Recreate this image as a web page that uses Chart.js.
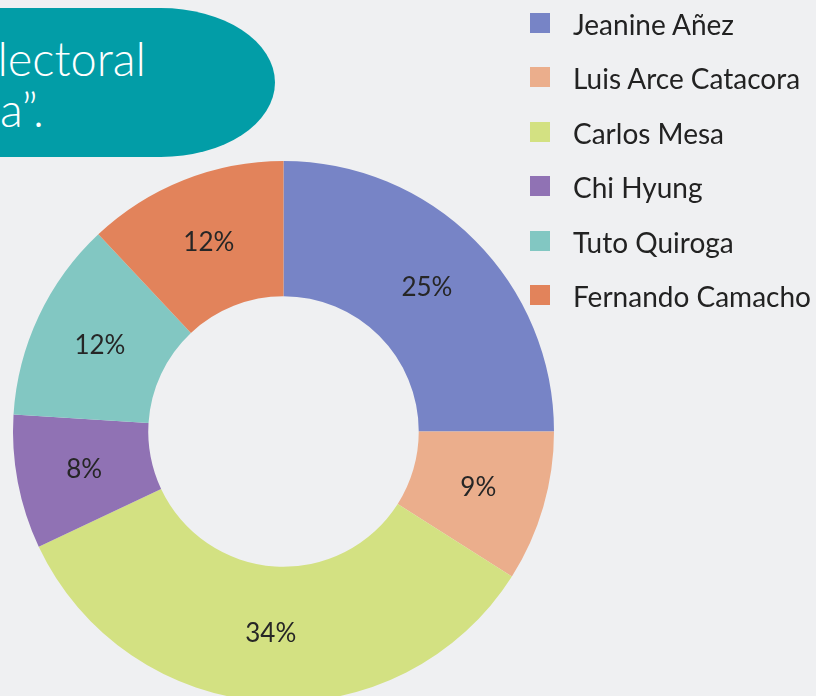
<!DOCTYPE html>
<html>
<head>
<meta charset="utf-8">
<script src="https://cdn.jsdelivr.net/npm/chart.js@4/dist/chart.umd.min.js"></script>
<style>
    html, body {
        margin: 0;
        padding: 0;
        width: 816px;
        height: 696px;
        overflow: hidden;
        background: #eff0f2;
        font-family: Lato, sans-serif;
    }
    #banner {
        position: absolute;
        left: -200px;
        top: 8px;
        width: 475px;
        height: 149px;
        background: #029da7;
        border-radius: 0 115px 115px 0 / 0 75px 75px 0;
    }
    .bannerLine {
        position: absolute;
        color: #ffffff;
        font-weight: 300;
        font-size: 47px;
        line-height: 47px;
        white-space: nowrap;
        text-align: right;
    }
    #chartBox {
        position: absolute;
        left: 0;
        top: 0;
        width: 816px;
        height: 720px;
    }
    #legend {
        position: absolute;
        left: 530px;
        top: 0;
    }
    .legendRow {
        position: absolute;
        display: flex;
        align-items: center;
        height: 20px;
        white-space: nowrap;
    }
    .legendBox {
        width: 20px;
        height: 20px;
        margin-right: 23px;
    }
    .legendText {
        font-size: 28px;
        color: #222222;
        line-height: 20px;
        position: relative;
        top: 1px;
    }
</style>
</head>
<body>
<div id="banner"></div>
<div class="bannerLine" style="right: 670px; top: 35px;">electoral</div>
<div class="bannerLine" style="right: 772px; top: 86px;">a”.</div>
<div id="chartBox"><canvas id="voteChart"></canvas></div>
<div id="legend"></div>
<script>
const candidates = ['Jeanine Añez', 'Luis Arce Catacora', 'Carlos Mesa', 'Chi Hyung', 'Tuto Quiroga', 'Fernando Camacho'];
const shares = [25, 9, 34, 8, 12, 12];
const sliceColors = ['#7784c6', '#ebae8c', '#d3e182', '#9072b4', '#82c7c2', '#e2835b'];

// etiquetas de porcentaje dentro de cada segmento
const sliceLabels = {
    id: 'sliceLabels',
    afterDatasetsDraw(chart) {
        const ctx = chart.ctx;
        const meta = chart.getDatasetMeta(0);
        ctx.save();
        ctx.font = '400 26px Lato';
        ctx.fillStyle = '#262626';
        ctx.textAlign = 'center';
        ctx.textBaseline = 'middle';
        meta.data.forEach((arc, i) => {
            const pos = arc.tooltipPosition();
            ctx.fillText(shares[i] + '%', pos.x, pos.y);
        });
        ctx.restore();
    }
};

const ctx = document.getElementById('voteChart').getContext('2d');
new Chart(ctx, {
    type: 'doughnut',
    data: {
        labels: candidates,
        datasets: [{
            data: shares,
            backgroundColor: sliceColors,
            borderWidth: 0
        }]
    },
    options: {
        responsive: true,
        maintainAspectRatio: false,
        animation: false,
        cutout: '50%',
        layout: {
            padding: { left: 13, top: 161, right: 262, bottom: 18 }
        },
        events: [],
        plugins: {
            legend: { display: false },
            tooltip: { enabled: false }
        }
    },
    plugins: [sliceLabels]
});

const legend = document.getElementById('legend');
candidates.forEach((name, i) => {
    const row = document.createElement('div');
    row.className = 'legendRow';
    row.style.top = (13 + i * 54.4) + 'px';
    row.innerHTML = `<div class="legendBox" style="background:${sliceColors[i]}"></div><span class="legendText">${name}</span>`;
    legend.appendChild(row);
});
</script>
</body>
</html>
